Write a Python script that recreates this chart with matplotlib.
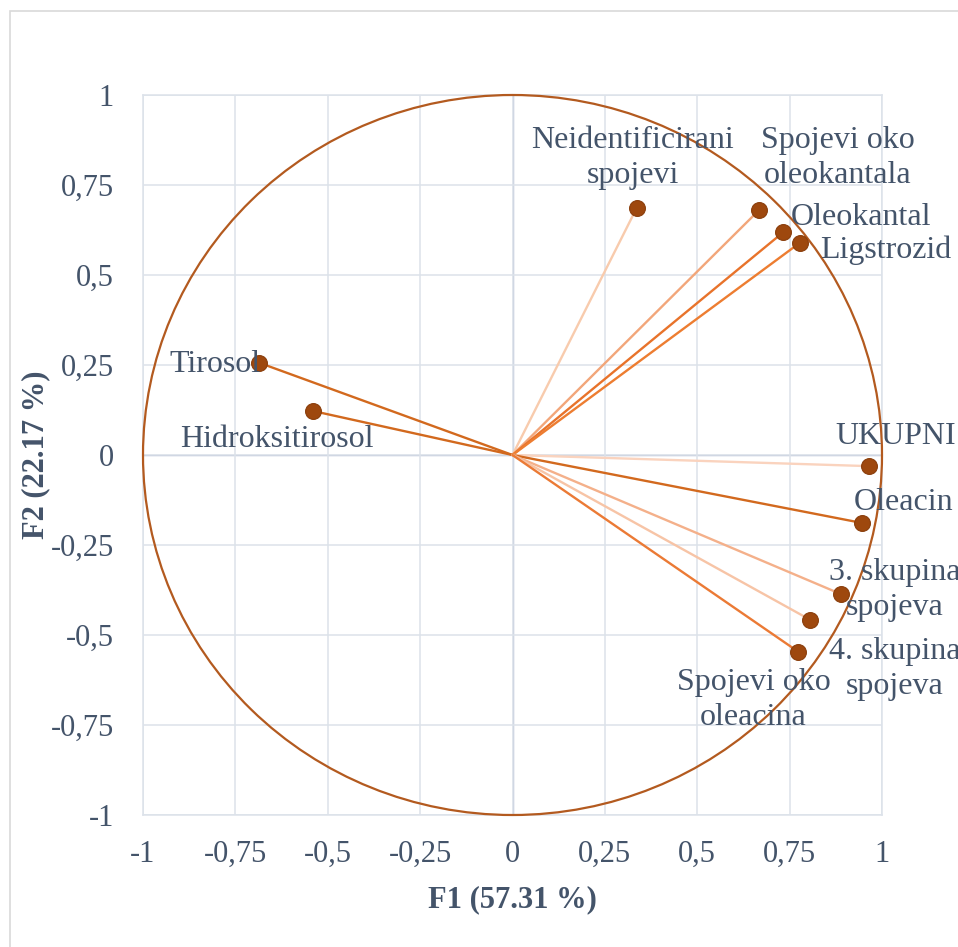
import matplotlib
matplotlib.use("Agg")
import matplotlib.pyplot as plt
from matplotlib.patches import Circle, Rectangle
import numpy as np

names = ["Neidentificirani\nspojevi", "Spojevi oko\noleokantala", "Oleokantal", "Ligstrozid",
         "Tirosol", "Hidroksitirosol", "UKUPNI", "Oleacin", "3. skupina\nspojeva",
         "4. skupina\nspojeva", "Spojevi oko\noleacina"]
f1 = [0.336, 0.668, 0.733, 0.777, -0.685, -0.539, 0.966, 0.947, 0.888, 0.806, 0.774]
f2 = [0.686, 0.681, 0.619, 0.589, 0.256, 0.122, -0.031, -0.189, -0.386, -0.458, -0.547]
ray_colors = ["#F8CBAD", "#F2A67A", "#E8732B", "#ED7D31", "#D2691E", "#D2691E",
              "#FAD3BE", "#D2691E", "#F4B08A", "#F7C4A6", "#EB7A35"]
label_pos = [(0.325, 0.825), (0.88, 0.825), (0.942, 0.661), (1.009, 0.569),
             (-0.804, 0.25), (-0.639, 0.042), (1.037, 0.05), (1.058, -0.131),
             (1.035, -0.375), (1.035, -0.594), (0.652, -0.681)]
ticks = [-1, -0.75, -0.5, -0.25, 0, 0.25, 0.5, 0.75, 1]
tick_labels = ["-1", "-0,75", "-0,5", "-0,25", "0", "0,25", "0,5", "0,75", "1"]

txt = "#44546A"
plt.rcParams['font.family'] = ['Liberation Serif', 'DejaVu Serif']

fig = plt.figure(figsize=(9.58, 9.47), dpi=100)
fig.patches.append(Rectangle((10/958, -0.1), 1.2, 1 - 11/947 + 0.1, transform=fig.transFigure,
                             fill=False, edgecolor="#D9D9D9", lw=1.2, zorder=0))
ax = fig.add_axes([143/958, 1 - 815/947, (882 - 143)/958, (815 - 95)/947])
ax.set_xlim(-1, 1)
ax.set_ylim(-1, 1)
ax.set_xticks(ticks)
ax.set_yticks(ticks)
ax.set_xticklabels(tick_labels)
ax.set_yticklabels(tick_labels)
ax.grid(True, color="#DCE2EA", lw=1.1, zorder=0)
for s in ax.spines.values():
    s.set_color("#DCE2EA")
    s.set_linewidth(1.1)
ax.tick_params(length=0, labelsize=22, labelcolor=txt)
ax.tick_params(axis='y', pad=21)
ax.tick_params(axis='x', pad=18)
ax.axhline(0, color="#A9B7CD", lw=1.0, zorder=1)
ax.axvline(0, color="#A9B7CD", lw=1.0, zorder=1)

ax.add_patch(Circle((0, 0), 1, fill=False, edgecolor="#B35A1F", lw=1.6, zorder=3, clip_on=False))

for x, y, c in zip(f1, f2, ray_colors):
    ax.plot([0, x], [0, y], color=c, lw=1.7, zorder=2, solid_capstyle='round')
ax.scatter(f1, f2, s=130, color="#9E480E", edgecolor="#8A3E0C", linewidth=0.8, zorder=5)

for n, (lx, ly) in zip(names, label_pos):
    ax.text(lx, ly, n, ha='center', va='center', fontsize=23, color=txt,
            linespacing=1.3, zorder=6, clip_on=False)

ax.set_xlabel("F1 (57.31 %)", fontsize=22, fontweight='bold', color=txt, labelpad=12)
ax.set_ylabel("F2 (22.17 %)", fontsize=22, fontweight='bold', color=txt, labelpad=0.5)

fig.savefig("out.png", dpi=100)
